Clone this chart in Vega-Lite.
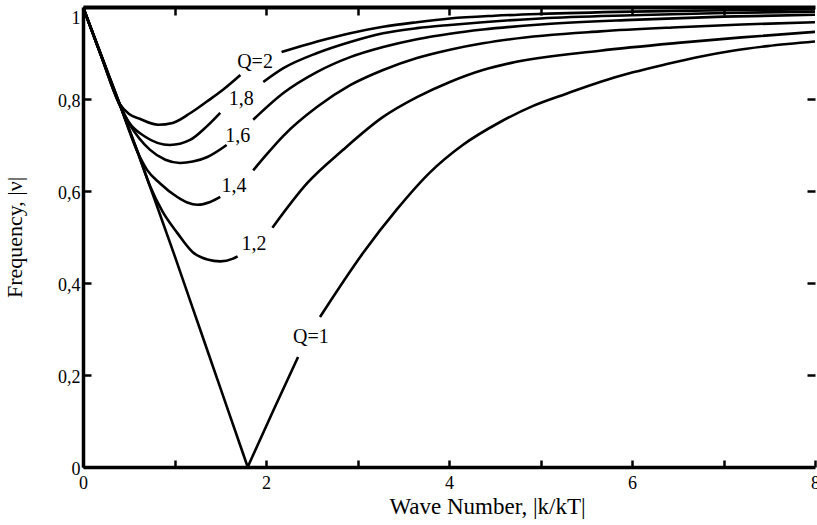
{
  "$schema": "https://vega.github.io/schema/vega-lite/v6.json",
  "width": 732,
  "height": 460,
  "autosize": {"type": "none"},
  "padding": {"left": 83, "top": 7, "right": 2, "bottom": 58},
  "background": "white",
  "config": {
    "view": {"stroke": null},
    "axis": {"domainColor": "black", "tickColor": "black", "labelColor": "black", "titleColor": "black", "grid": false, "labelFont": "Liberation Serif", "titleFont": "Liberation Serif", "titleFontWeight": "normal"}
  },
  "datasets": {
    "curves": [
      {"seg": "2a", "k": 0, "v": 1}, {"seg": "2a", "k": 0.2, "v": 0.893}, {"seg": "2a", "k": 0.4, "v": 0.79}, {"seg": "2a", "k": 0.5, "v": 0.768}, {"seg": "2a", "k": 0.62, "v": 0.757}, {"seg": "2a", "k": 0.82, "v": 0.744}, {"seg": "2a", "k": 0.98, "v": 0.748}, {"seg": "2a", "k": 1.17, "v": 0.769}, {"seg": "2a", "k": 1.35, "v": 0.794}, {"seg": "2a", "k": 1.53, "v": 0.82}, {"seg": "2a", "k": 1.72, "v": 0.852},
      {"seg": "2b", "k": 2.17, "v": 0.902}, {"seg": "2b", "k": 2.56, "v": 0.925}, {"seg": "2b", "k": 2.92, "v": 0.943}, {"seg": "2b", "k": 3.28, "v": 0.957}, {"seg": "2b", "k": 3.65, "v": 0.967}, {"seg": "2b", "k": 4.01, "v": 0.975}, {"seg": "2b", "k": 4.5, "v": 0.981}, {"seg": "2b", "k": 5, "v": 0.985}, {"seg": "2b", "k": 6, "v": 0.99}, {"seg": "2b", "k": 7, "v": 0.993}, {"seg": "2b", "k": 8, "v": 0.995},
      {"seg": "18a", "k": 0, "v": 1}, {"seg": "18a", "k": 0.2, "v": 0.893}, {"seg": "18a", "k": 0.4, "v": 0.788}, {"seg": "18a", "k": 0.5, "v": 0.75}, {"seg": "18a", "k": 0.68, "v": 0.718}, {"seg": "18a", "k": 0.95, "v": 0.70}, {"seg": "18a", "k": 1.17, "v": 0.711}, {"seg": "18a", "k": 1.35, "v": 0.74}, {"seg": "18a", "k": 1.5, "v": 0.77},
      {"seg": "18b", "k": 1.97, "v": 0.837}, {"seg": "18b", "k": 2.19, "v": 0.867}, {"seg": "18b", "k": 2.56, "v": 0.9}, {"seg": "18b", "k": 2.92, "v": 0.924}, {"seg": "18b", "k": 3.28, "v": 0.943}, {"seg": "18b", "k": 3.65, "v": 0.954}, {"seg": "18b", "k": 4.01, "v": 0.961}, {"seg": "18b", "k": 4.37, "v": 0.967}, {"seg": "18b", "k": 5, "v": 0.975}, {"seg": "18b", "k": 6, "v": 0.982}, {"seg": "18b", "k": 7, "v": 0.987}, {"seg": "18b", "k": 8, "v": 0.99},
      {"seg": "16a", "k": 0, "v": 1}, {"seg": "16a", "k": 0.2, "v": 0.893}, {"seg": "16a", "k": 0.4, "v": 0.787}, {"seg": "16a", "k": 0.51, "v": 0.745}, {"seg": "16a", "k": 0.73, "v": 0.69}, {"seg": "16a", "k": 0.9, "v": 0.668}, {"seg": "16a", "k": 1.06, "v": 0.661}, {"seg": "16a", "k": 1.2, "v": 0.664}, {"seg": "16a", "k": 1.36, "v": 0.674}, {"seg": "16a", "k": 1.57, "v": 0.70},
      {"seg": "16b", "k": 1.86, "v": 0.755}, {"seg": "16b", "k": 2.19, "v": 0.813}, {"seg": "16b", "k": 2.56, "v": 0.859}, {"seg": "16b", "k": 2.92, "v": 0.891}, {"seg": "16b", "k": 3.28, "v": 0.913}, {"seg": "16b", "k": 3.65, "v": 0.93}, {"seg": "16b", "k": 4.01, "v": 0.942}, {"seg": "16b", "k": 4.37, "v": 0.951}, {"seg": "16b", "k": 5, "v": 0.962}, {"seg": "16b", "k": 6, "v": 0.972}, {"seg": "16b", "k": 7, "v": 0.979}, {"seg": "16b", "k": 8, "v": 0.983},
      {"seg": "14a", "k": 0, "v": 1}, {"seg": "14a", "k": 0.2, "v": 0.894}, {"seg": "14a", "k": 0.4, "v": 0.789}, {"seg": "14a", "k": 0.6, "v": 0.683}, {"seg": "14a", "k": 0.7, "v": 0.646}, {"seg": "14a", "k": 0.84, "v": 0.617}, {"seg": "14a", "k": 1.03, "v": 0.587}, {"seg": "14a", "k": 1.14, "v": 0.575}, {"seg": "14a", "k": 1.25, "v": 0.57}, {"seg": "14a", "k": 1.39, "v": 0.576}, {"seg": "14a", "k": 1.5, "v": 0.587},
      {"seg": "14b", "k": 1.86, "v": 0.645}, {"seg": "14b", "k": 2.0, "v": 0.678}, {"seg": "14b", "k": 2.19, "v": 0.72}, {"seg": "14b", "k": 2.56, "v": 0.783}, {"seg": "14b", "k": 2.92, "v": 0.83}, {"seg": "14b", "k": 3.28, "v": 0.863}, {"seg": "14b", "k": 3.65, "v": 0.889}, {"seg": "14b", "k": 4.01, "v": 0.907}, {"seg": "14b", "k": 4.37, "v": 0.921}, {"seg": "14b", "k": 4.67, "v": 0.93}, {"seg": "14b", "k": 5.65, "v": 0.947}, {"seg": "14b", "k": 6.5, "v": 0.956}, {"seg": "14b", "k": 7.2, "v": 0.962}, {"seg": "14b", "k": 8, "v": 0.967},
      {"seg": "12a", "k": 0, "v": 1}, {"seg": "12a", "k": 0.2, "v": 0.894}, {"seg": "12a", "k": 0.4, "v": 0.789}, {"seg": "12a", "k": 0.6, "v": 0.683}, {"seg": "12a", "k": 0.73, "v": 0.612}, {"seg": "12a", "k": 0.87, "v": 0.555}, {"seg": "12a", "k": 1.03, "v": 0.509}, {"seg": "12a", "k": 1.2, "v": 0.467}, {"seg": "12a", "k": 1.36, "v": 0.451}, {"seg": "12a", "k": 1.5, "v": 0.447}, {"seg": "12a", "k": 1.64, "v": 0.453}, {"seg": "12a", "k": 1.69, "v": 0.458},
      {"seg": "12b", "k": 2.07, "v": 0.52}, {"seg": "12b", "k": 2.45, "v": 0.617}, {"seg": "12b", "k": 2.84, "v": 0.689}, {"seg": "12b", "k": 3.28, "v": 0.761}, {"seg": "12b", "k": 3.65, "v": 0.804}, {"seg": "12b", "k": 4.01, "v": 0.837}, {"seg": "12b", "k": 4.37, "v": 0.863}, {"seg": "12b", "k": 4.67, "v": 0.878}, {"seg": "12b", "k": 5.65, "v": 0.905}, {"seg": "12b", "k": 6.5, "v": 0.922}, {"seg": "12b", "k": 7.2, "v": 0.934}, {"seg": "12b", "k": 8, "v": 0.946},
      {"seg": "1a", "k": 0, "v": 1}, {"seg": "1a", "k": 0.2, "v": 0.895}, {"seg": "1a", "k": 0.4, "v": 0.79}, {"seg": "1a", "k": 0.6, "v": 0.683}, {"seg": "1a", "k": 0.8, "v": 0.572}, {"seg": "1a", "k": 1.0, "v": 0.46}, {"seg": "1a", "k": 1.2, "v": 0.345}, {"seg": "1a", "k": 1.4, "v": 0.23}, {"seg": "1a", "k": 1.6, "v": 0.115}, {"seg": "1a", "k": 1.8, "v": 0},
      {"seg": "1b", "k": 1.8, "v": 0}, {"seg": "1b", "k": 2.08, "v": 0.123}, {"seg": "1b", "k": 2.35, "v": 0.239},
      {"seg": "1c", "k": 2.59, "v": 0.326}, {"seg": "1c", "k": 3.06, "v": 0.465}, {"seg": "1c", "k": 3.43, "v": 0.56}, {"seg": "1c", "k": 3.79, "v": 0.64}, {"seg": "1c", "k": 4.15, "v": 0.70}, {"seg": "1c", "k": 4.56, "v": 0.75}, {"seg": "1c", "k": 4.92, "v": 0.785}, {"seg": "1c", "k": 5.29, "v": 0.812}, {"seg": "1c", "k": 5.65, "v": 0.837}, {"seg": "1c", "k": 6.01, "v": 0.858}, {"seg": "1c", "k": 6.38, "v": 0.876}, {"seg": "1c", "k": 6.74, "v": 0.892}, {"seg": "1c", "k": 7.1, "v": 0.905}, {"seg": "1c", "k": 7.48, "v": 0.915}, {"seg": "1c", "k": 8, "v": 0.925}
    ],
    "labels": [
      {"k": 1.88, "v": 0.88, "t": "Q=2"},
      {"k": 1.73, "v": 0.80, "t": "1,8"},
      {"k": 1.69, "v": 0.72, "t": "1,6"},
      {"k": 1.65, "v": 0.611, "t": "1,4"},
      {"k": 1.87, "v": 0.485, "t": "1,2"},
      {"k": 2.49, "v": 0.283, "t": "Q=1"}
    ]
  },
  "layer": [
    {
      "data": {"name": "curves"},
      "mark": {"type": "line", "color": "black", "strokeWidth": 2.6, "interpolate": "monotone", "clip": true},
      "encoding": {
        "x": {"field": "k", "type": "quantitative", "scale": {"domain": [0, 8], "nice": false, "zero": false},
          "axis": {"orient": "bottom", "values": [0, 1, 2, 3, 4, 5, 6, 7, 8], "ticks": true, "tickSize": -7, "tickWidth": 2.5, "domainWidth": 3.5,
            "labelFontSize": 18, "labelPadding": 14, "labelFlush": false, "labelOverlap": false,
            "labelExpr": "datum.value % 2 == 0 ? datum.label : ''",
            "title": "Wave Number, |k/kT|", "titleFontSize": 23, "titleX": 404, "titleY": 46, "titleBaseline": "alphabetic", "titleAlign": "center"}},
        "y": {"field": "v", "type": "quantitative", "scale": {"domain": [0, 1], "nice": false, "zero": false},
          "axis": {"orient": "left", "values": [0, 0.2, 0.4, 0.6, 0.8, 1], "ticks": true, "tickSize": -8, "tickWidth": 2.5, "domainWidth": 3.5,
            "labelFontSize": 18, "labelPadding": 11, "labelFlush": false, "labelOverlap": false,
            "labelOffset": {"condition": {"test": "datum.value == 1", "value": 11}, "value": 2},
            "labelExpr": "datum.value == 0 ? '0' : datum.value == 1 ? '1' : replace(format(datum.value, '.1f'), '.', ',')",
            "title": "Frequency, |ν|", "titleFontSize": 22, "titleX": -62, "titleY": 230, "titleBaseline": "alphabetic", "titleAlign": "center", "titleAngle": -90}},
        "detail": {"field": "seg", "type": "nominal"}
      }
    },
    {
      "data": {"name": "labels"},
      "mark": {"type": "text", "font": "Liberation Serif", "fontSize": 20, "color": "black", "align": "center", "baseline": "middle"},
      "encoding": {
        "x": {"field": "k", "type": "quantitative", "scale": {"domain": [0, 8], "nice": false, "zero": false},
          "axis": {"orient": "top", "values": [1, 2, 3, 4, 5, 6, 7], "ticks": true, "labels": false, "tickSize": -8, "tickWidth": 2.5, "domainWidth": 4, "title": null}},
        "y": {"field": "v", "type": "quantitative", "scale": {"domain": [0, 1], "nice": false, "zero": false},
          "axis": {"orient": "right", "values": [0.2, 0.4, 0.6, 0.8], "labels": false, "tickSize": -8, "tickWidth": 2.5, "domain": false, "title": null}},
        "text": {"field": "t", "type": "nominal"}
      }
    }
  ],
  "resolve": {"axis": {"x": "independent", "y": "independent"}}
}
